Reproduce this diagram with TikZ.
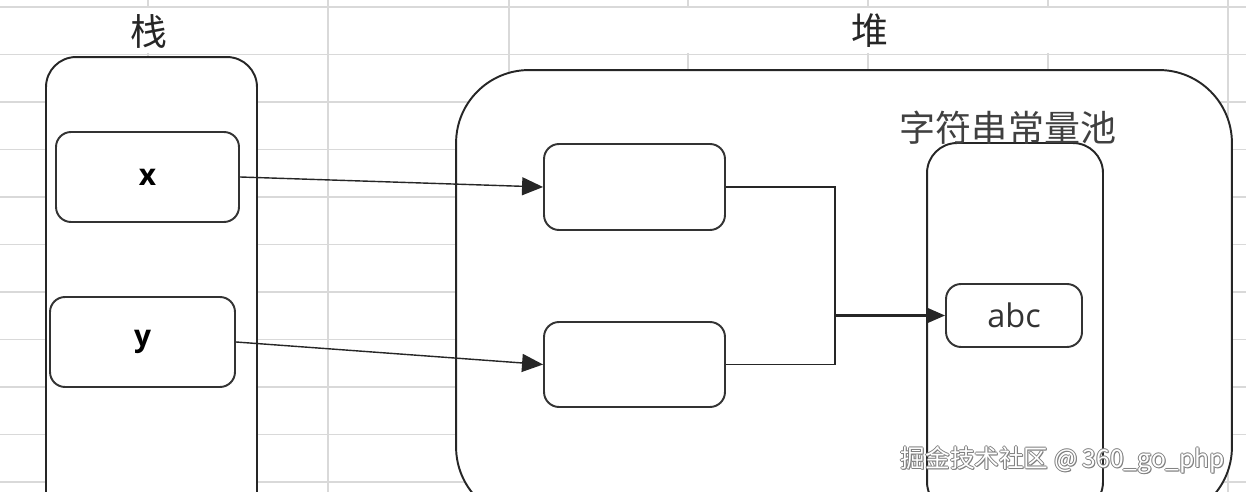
\documentclass[tikz,border=0pt]{standalone}
\usepackage{fontspec}
\setmainfont{Noto Sans CJK SC}
\newfontfamily\latinfont{Open Sans}
\usetikzlibrary{arrows.meta,positioning}

\begin{document}
\begin{tikzpicture}[x=0.02cm,y=-0.02cm,
gridline/.style={draw=black!15,line width=0.8pt},
region/.style={draw=black!85,fill=white,line width=1.1pt},
cell/.style={draw=black!80,fill=white,line width=1.1pt,rounded corners=0.3cm,font=\latinfont\fontsize{17}{20}\selectfont},
title/.style={font=\fontsize{21}{24}\selectfont,text=black!85},
link/.style={draw=black!85,line width=0.8pt,-{Triangle[length=0.42cm,width=0.36cm]}}]
\useasboundingbox (0,0) rectangle (1246,492);
\clip (0,0) rectangle (1246,492);
\fill[white] (0,0) rectangle (1246,492);
\foreach \r in {0,...,10} \draw[gridline] (0,7+47.5*\r) -- (1246,7+47.5*\r);
\foreach \c in {328,509,1228} \draw[gridline] (\c,0) -- (\c,492);
\foreach \c in {148,688,868,1048} \draw[gridline] (\c,0) -- (\c,7) (\c,53) -- (\c,492);
\node[region,rounded corners=0.6cm,minimum width=4.22cm,minimum height=9.66cm] (stack) at (151.5,298.5) {};
\node[region,rounded corners=1.46cm,minimum width=15.52cm,minimum height=9cm] (heap) at (844,295) {};
\node[region,rounded corners=0.6cm,minimum width=3.52cm,minimum height=7.38cm] (pool) at (1015,327.5) {};
\node[title] (stacktitle) at (149,31) {栈};
\node[title] (heaptitle) at (870,31) {堆};
\node[title,font=\fontsize{20.5}{24}\selectfont,text=black!75] (pooltitle) at (1008,128) {字符串常量池};
\node[cell,minimum width=3.66cm,minimum height=1.8cm] (varx) at (147.5,177) {\bfseries x};
\node[cell,minimum width=3.7cm,minimum height=1.8cm] (vary) at (142.5,342) {\bfseries y};
\node[cell,minimum width=3.62cm,minimum height=1.72cm] (objx) at (634.5,187) {};
\node[cell,minimum width=3.62cm,minimum height=1.7cm] (objy) at (634.5,364.5) {};
\node[cell,minimum width=2.72cm,minimum height=1.26cm,text=black!80,font=\latinfont\fontsize{18.5}{20}\selectfont] (abc) at (1014,315.5) {abc};
\coordinate (join) at (835,315.5);
\draw[link] (varx.east) -- (objx.west);
\draw[link] (vary.east) -- (objy.west);
\draw[draw=black!85,line width=1pt] (objx.east) -| (join) |- (objy.east);
\draw[link,line width=1.4pt,-{Triangle[length=0.36cm,width=0.3cm]}] (join) -- (abc.west);
\foreach \dx/\dy [count=\i] in {-1/0,1/0,0/-1,0/1,1/1}
  \node[font=\fontsize{14}{16}\selectfont,text=black!50] (markedge\i) at (1063+\dx,460+\dy) {掘金技术社区 @ 360\_go\_php};
\node[font=\fontsize{14}{16}\selectfont,text=white] (mark) at (1063,460) {掘金技术社区 @ 360\_go\_php};
\end{tikzpicture}
\end{document}
